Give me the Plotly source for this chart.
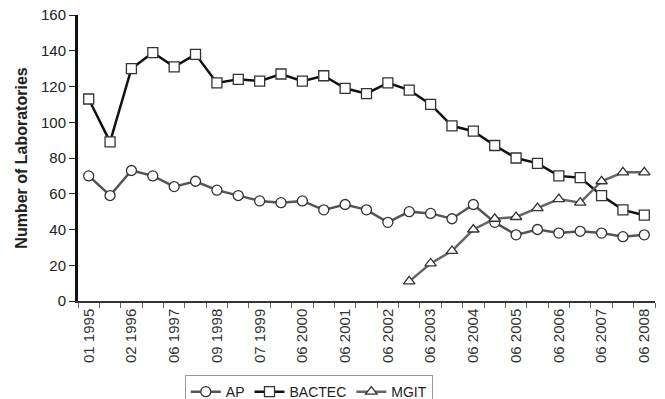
import plotly.graph_objects as go

tick_labels = ["01 1995", "02 1996", "06 1997", "09 1998", "07 1999", "06 2000", "06 2001",
               "06 2002", "06 2003", "06 2004", "06 2005", "06 2006", "06 2007", "06 2008"]
n_surveys = 27
survey_idx = list(range(n_surveys))

ap = [70, 59, 73, 70, 64, 67, 62, 59, 56, 55, 56, 51, 54, 51, 44, 50, 49, 46, 54, 44, 37, 40, 38, 39, 38, 36, 37]
bactec = [113, 89, 130, 139, 131, 138, 122, 124, 123, 127, 123, 126, 119, 116, 122, 118, 110, 98, 95, 87, 80, 77, 70, 69, 59, 51, 48]
mgit = [None] * 15 + [11, 21, 28, 40, 46, 47, 52, 57, 55, 67, 72, 72]

fig = go.Figure()
fig.add_trace(go.Scatter(x=survey_idx, y=ap, name="AP", mode="lines+markers",
                         line=dict(color="#555555", width=2.5),
                         marker=dict(symbol="circle", size=10, color="white",
                                     line=dict(color="#333333", width=1.3))))
fig.add_trace(go.Scatter(x=survey_idx, y=bactec, name="BACTEC", mode="lines+markers",
                         line=dict(color="#111111", width=2.5),
                         marker=dict(symbol="square", size=10, color="white",
                                     line=dict(color="#333333", width=1.3))))
fig.add_trace(go.Scatter(x=survey_idx, y=mgit, name="MGIT", mode="lines+markers",
                         line=dict(color="#666666", width=2.5),
                         marker=dict(symbol="triangle-up", size=10, color="white",
                                     line=dict(color="#333333", width=1.3))))

fig.update_layout(
    width=665, height=399,
    margin=dict(l=78, r=10, t=15, b=98, autoexpand=False),
    plot_bgcolor="white", paper_bgcolor="white",
    font=dict(family="Liberation Sans, Arial, sans-serif", size=14, color="#222222"),
    legend=dict(orientation="h", x=0.40, xanchor="center", y=-0.259, yanchor="top",
                bordercolor="#999999", borderwidth=1, font=dict(size=14),
                tracegroupgap=0),
    showlegend=True,
)
fig.update_xaxes(
    range=[-0.5, n_surveys - 0.5], automargin=False,
    tickvals=survey_idx[::2], ticktext=tick_labels, tickangle=-90,
    ticks="", showgrid=False, zeroline=False,
    showline=True, linecolor="#333333", linewidth=1.5,
    tickfont=dict(size=15, color="#333333"),
    minor=dict(tickvals=[i - 0.5 for i in range(n_surveys + 1)], ticks="outside",
               ticklen=5, tickcolor="#666666", showgrid=False),
)
fig.update_yaxes(
    range=[0, 160], tickvals=list(range(0, 161, 20)), automargin=False,
    ticks="outside", ticklen=6, tickcolor="#222222",
    showgrid=False, zeroline=False,
    showline=True, linecolor="#111111", linewidth=3,
    tickfont=dict(size=15, color="#222222"),
    title=dict(text="<b>Number of Laboratories</b>", font=dict(size=16), standoff=10),
)
fig.write_html("out.html")
